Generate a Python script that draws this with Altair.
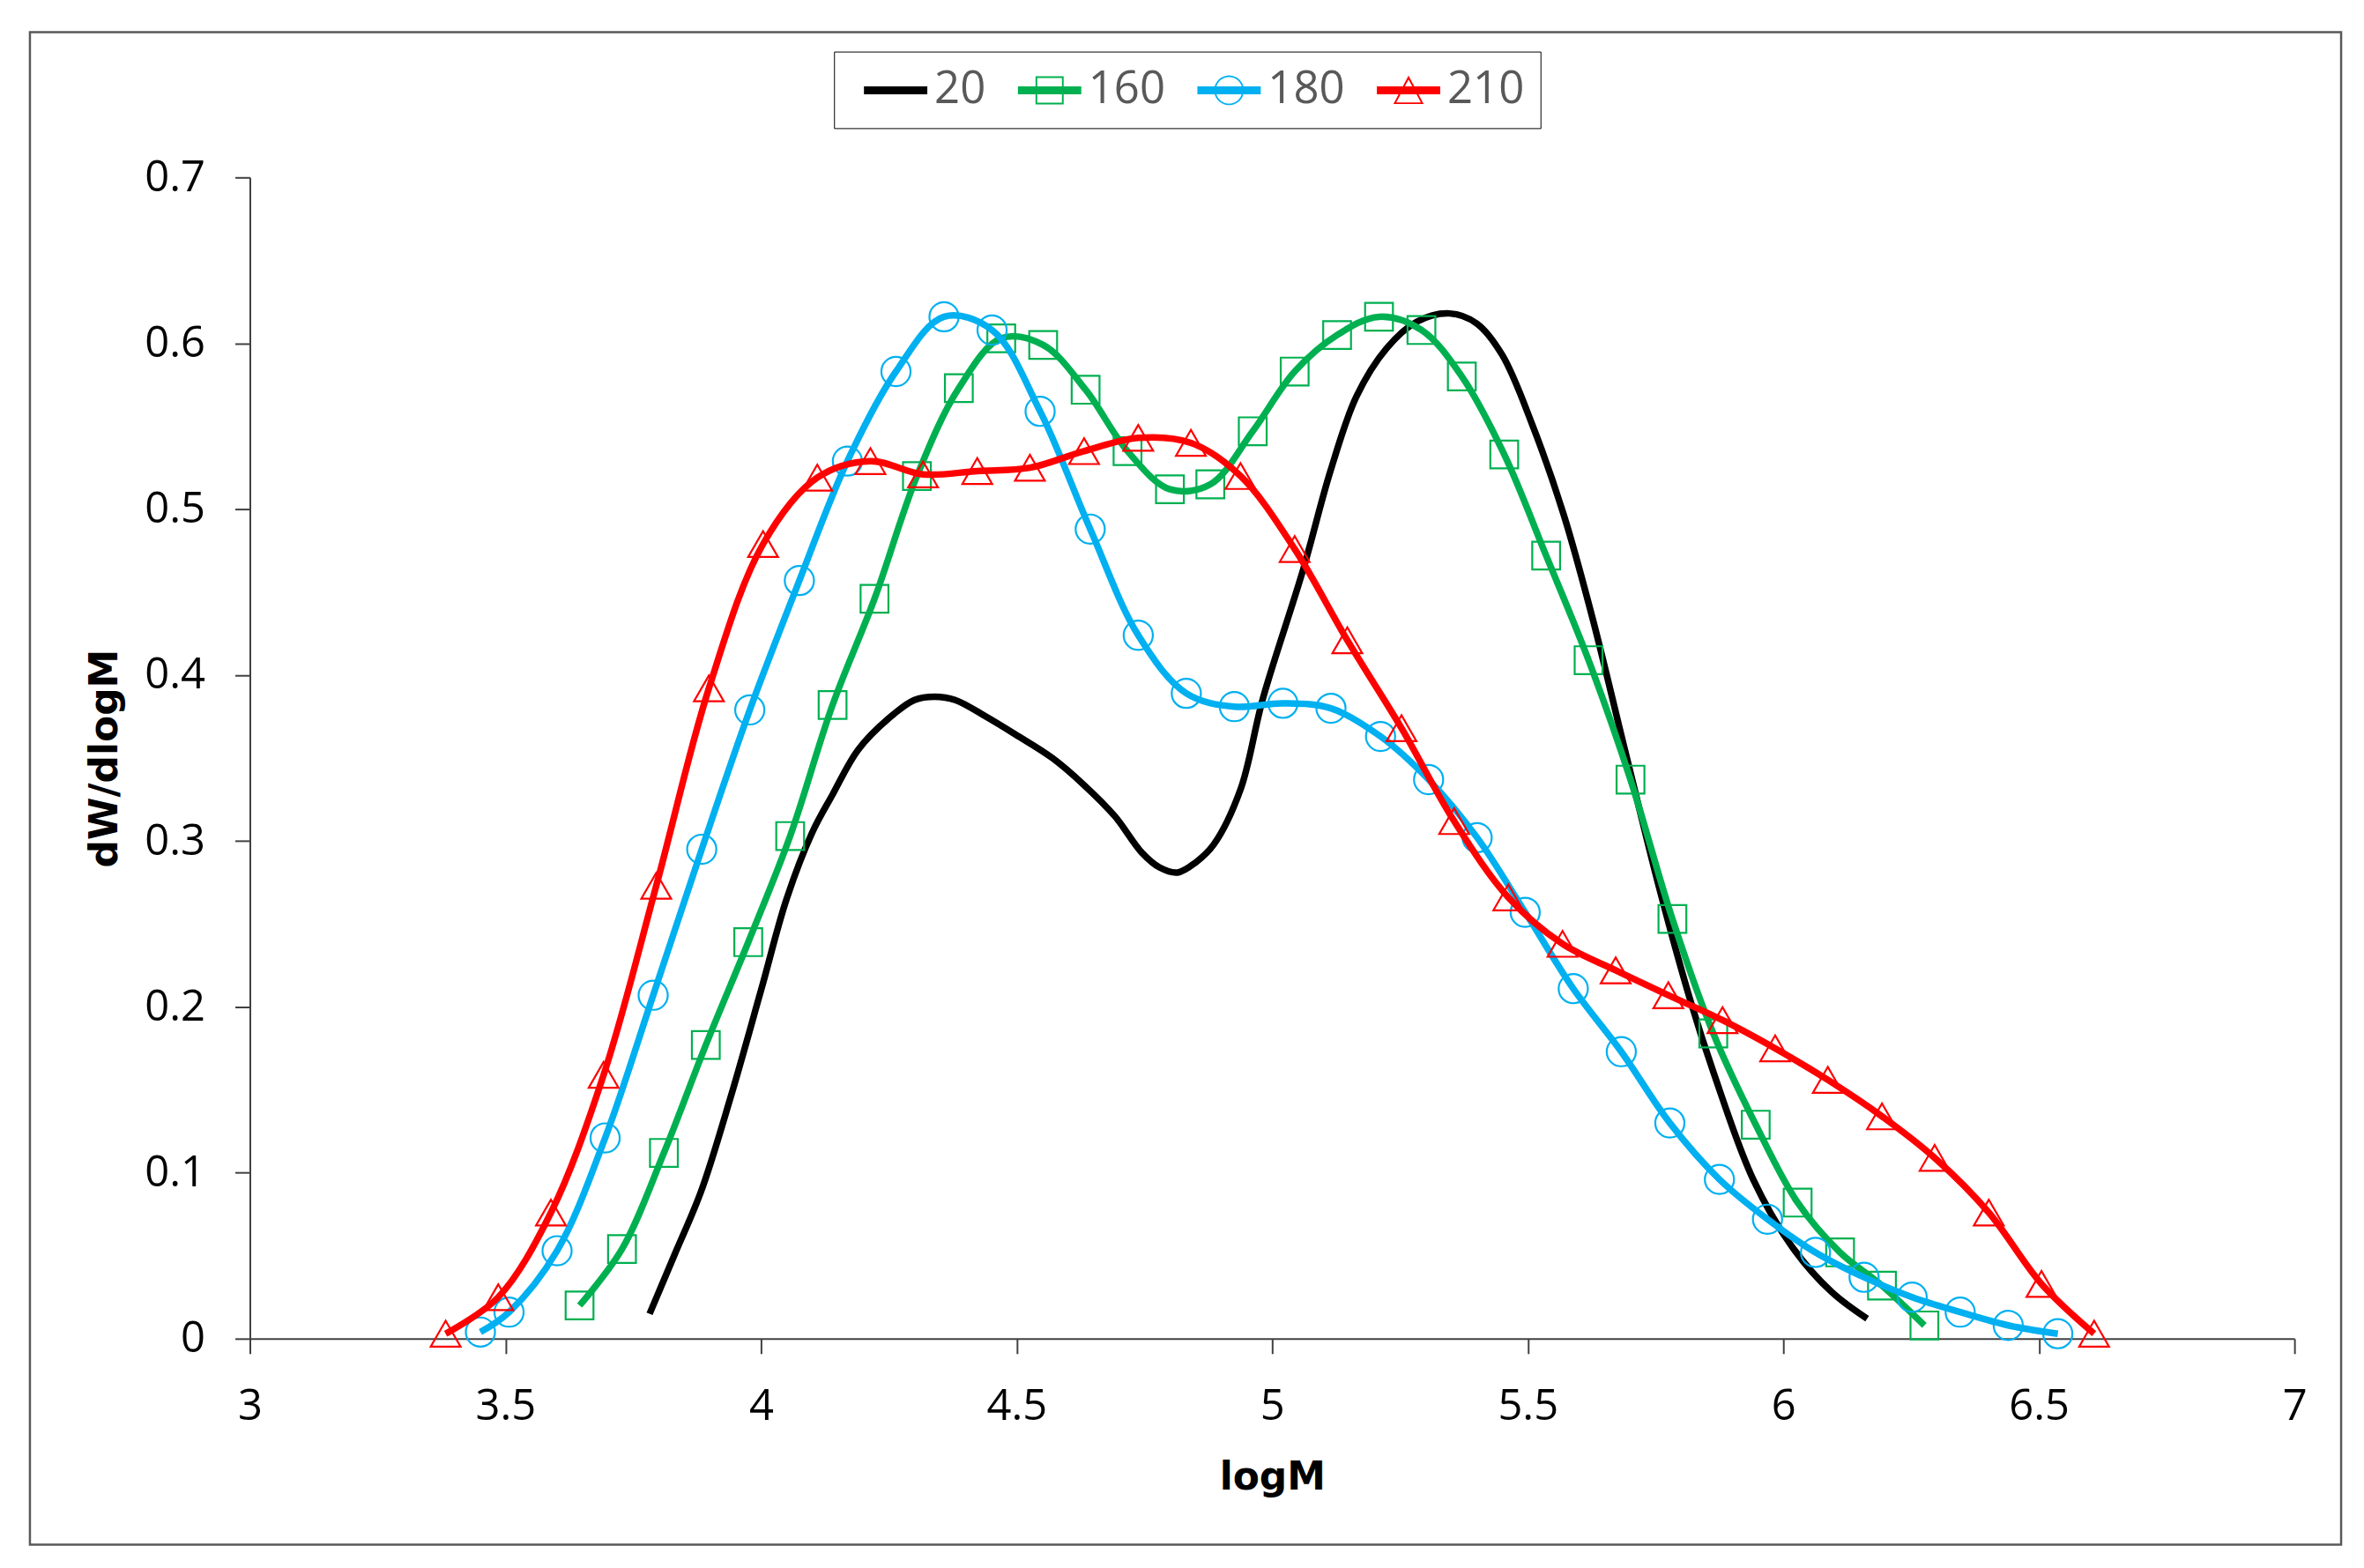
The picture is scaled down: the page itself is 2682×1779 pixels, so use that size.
import altair as alt
import pandas as pd
import numpy as np

# ---------------- data ----------------
series_names = ["20", "160", "180", "210"]
series_colors = ["#000000", "#00B050", "#00B0F0", "#FF0000"]

x_20 = [3.782, 3.83, 3.883, 3.94, 4.0, 4.05, 4.1, 4.14, 4.19, 4.25, 4.30, 4.34, 4.38,
        4.44, 4.499, 4.57, 4.631, 4.692, 4.745, 4.78, 4.815, 4.85, 4.886, 4.938, 4.982,
        5.061, 5.114, 5.165, 5.224, 5.283, 5.347, 5.40, 5.45, 5.51, 5.57, 5.627,
        5.69, 5.757, 5.818, 5.864, 5.941, 6.018, 6.095, 6.164]
y_20 = [0.015, 0.05, 0.089, 0.145, 0.21, 0.265, 0.305, 0.328, 0.355, 0.374, 0.385, 0.387, 0.385,
        0.375, 0.364, 0.35, 0.334, 0.315, 0.293, 0.284, 0.281, 0.287, 0.298, 0.331, 0.386,
        0.464, 0.523, 0.568, 0.597, 0.613, 0.618, 0.612, 0.593, 0.550, 0.497, 0.434,
        0.355, 0.272, 0.204, 0.160, 0.096, 0.055, 0.028, 0.012]

x_160 = [3.645, 3.728, 3.810, 3.892, 3.975, 4.057, 4.140, 4.222, 4.305, 4.387, 4.470, 4.552,
         4.635, 4.717, 4.800, 4.879, 4.962, 5.044, 5.127, 5.209, 5.292, 5.371, 5.454, 5.536,
         5.619, 5.701, 5.783, 5.863, 5.946, 6.028, 6.111, 6.193, 6.276]
y_160 = [0.020, 0.054, 0.112, 0.177, 0.239, 0.303, 0.382, 0.446, 0.520, 0.573, 0.603, 0.599,
         0.572, 0.535, 0.512, 0.515, 0.547, 0.583, 0.605, 0.616, 0.608, 0.580, 0.533, 0.472,
         0.409, 0.337, 0.253, 0.184, 0.129, 0.082, 0.052, 0.032, 0.008]

x_180 = [3.451, 3.507, 3.601, 3.695, 3.789, 3.884, 3.978, 4.075, 4.169, 4.264, 4.358, 4.452,
         4.546, 4.644, 4.738, 4.832, 4.926, 5.021, 5.115, 5.212, 5.306, 5.401, 5.495, 5.589,
         5.683, 5.778, 5.875, 5.969, 6.063, 6.158, 6.252, 6.346, 6.440, 6.537]
y_180 = [0.004, 0.016, 0.053, 0.121, 0.207, 0.295, 0.379, 0.457, 0.529, 0.583, 0.616, 0.608,
         0.559, 0.488, 0.424, 0.389, 0.381, 0.383, 0.380, 0.363, 0.337, 0.302, 0.257, 0.211,
         0.173, 0.130, 0.096, 0.072, 0.052, 0.037, 0.025, 0.016, 0.008, 0.003]

x_210 = [3.383, 3.486, 3.589, 3.692, 3.795, 3.898, 4.004, 4.110, 4.214, 4.317, 4.423, 4.526,
         4.632, 4.738, 4.841, 4.938, 5.044, 5.147, 5.253, 5.356, 5.462, 5.568, 5.672, 5.775,
         5.881, 5.984, 6.087, 6.193, 6.296, 6.402, 6.505, 6.608]
y_210 = [0.003, 0.025, 0.076, 0.159, 0.273, 0.392, 0.479, 0.519, 0.529, 0.521, 0.523, 0.525,
         0.535, 0.543, 0.540, 0.520, 0.476, 0.421, 0.368, 0.312, 0.266, 0.238, 0.222, 0.207,
         0.192, 0.175, 0.156, 0.134, 0.109, 0.076, 0.033, 0.003]

x_ticks = [3, 3.5, 4, 4.5, 5, 5.5, 6, 6.5, 7]
y_ticks = [0, 0.1, 0.2, 0.3, 0.4, 0.5, 0.6, 0.7]

series_x = {"20": x_20, "160": x_160, "180": x_180, "210": x_210}
series_y = {"20": y_20, "160": y_160, "180": y_180, "210": y_210}
marker_shape = {"160": "square", "180": "circle", "210": "triangle-up"}
marker_size = {"160": 1000, "180": 1100, "210": 1150}

frames = []
for s in series_names:
    frames.append(pd.DataFrame({"series": s, "logM": series_x[s], "dW": series_y[s]}))
df = pd.concat(frames, ignore_index=True)

# ---------------- styling ----------------
W, H = 2324, 1320
LABEL_FONT = "Open Sans"
TITLE_FONT = "DejaVu Sans"

x_enc = alt.X("logM:Q", scale=alt.Scale(domain=[3, 7], nice=False, zero=False),
              axis=alt.Axis(values=x_ticks, format="~g", title="logM", labelFlush=False,
                            labelPadding=36, titlePadding=34))
y_enc = alt.Y("dW:Q", scale=alt.Scale(domain=[0, 0.7], nice=False),
              axis=alt.Axis(values=y_ticks, format="~g", title="dW/dlogM",
                            labelPadding=34, titlePadding=22))

# legend symbols: thick line with hollow marker (custom paths, unit = sqrt(size)/2 = 26px)
x0, x1, t = -0.385, 2.385, 0.175
cx = (x0 + x1) / 2
line_path = f"M{x0},{-t}H{x1}V{t}H{x0}Z"
a, b = 0.615, 0.54
sq_path = line_path + (f" M{cx-a:.3f},{-a}H{cx+a:.3f}V{a}H{cx-a:.3f}Z"
                       f" M{cx-b:.3f},{-b}V{b}H{cx+b:.3f}V{-b}Z")
ang = np.linspace(0, 2 * np.pi, 48, endpoint=False)
ro, ri = 0.65, 0.58
outer = "M" + "L".join(f"{cx+ro*np.cos(q):.3f},{ro*np.sin(q):.3f}" for q in ang) + "Z"
inner = "M" + "L".join(f"{cx+ri*np.cos(q):.3f},{ri*np.sin(q):.3f}" for q in ang[::-1]) + "Z"
ci_path = line_path + " " + outer + " " + inner
tr_path = line_path + (f" M{cx},-0.64L{cx+0.66:.3f},0.6L{cx-0.66:.3f},0.6Z"
                       f" M{cx},-0.47L{cx-0.54:.3f},0.53L{cx+0.54:.3f},0.53Z")
legend_paths = [line_path, sq_path, ci_path, tr_path]

legend_def = alt.Legend(orient="none", legendX=664, legendY=-143, direction="horizontal",
                        title=None, strokeColor="#000000", padding=18,
                        symbolSize=2704, symbolStrokeWidth=0, symbolOpacity=1,
                        labelFont=LABEL_FONT, labelFontSize=51, labelColor="#595959",
                        labelOffset=44, columnPadding=20)

layers = []
for s, c in zip(series_names, series_colors):
    sub = alt.Chart(df).transform_filter(alt.datum.series == s)
    layers.append(sub.mark_line(color=c, strokeWidth=7.5, interpolate="catmull-rom")
                  .encode(x=x_enc, y=y_enc))
    if s in marker_shape:
        layers.append(sub.mark_point(shape=marker_shape[s], color=c, filled=False,
                                     size=marker_size[s], strokeWidth=2.2, opacity=1)
                      .encode(x=x_enc, y=y_enc))

legend_layer = alt.Chart(df).transform_filter("datum.dW > 10").mark_point(
    filled=True, opacity=1, size=2704).encode(
    x=x_enc, y=y_enc,
    color=alt.Color("series:N", scale=alt.Scale(domain=series_names, range=series_colors),
                    legend=legend_def),
    shape=alt.Shape("series:N", scale=alt.Scale(domain=series_names, range=legend_paths),
                    legend=legend_def),
)

frame = alt.Chart(alt.Data(values=[{"k": 1}])).mark_rect(
    fillOpacity=0, stroke="#595959", strokeWidth=2.5).encode(
    x=alt.value(-250), x2=alt.value(2377), y=alt.value(-165), y2=alt.value(1554))

chart = alt.layer(frame, *layers, legend_layer).properties(
    width=W, height=H, background="white",
    padding={"left": 24, "top": 25, "right": 16, "bottom": 16}
).configure_view(stroke=None).configure_axis(
    grid=False, domainColor="#404040", domainWidth=2, tickColor="#404040", tickWidth=2,
    tickSize=17, labelFont=LABEL_FONT, labelFontSize=49, labelColor="#000000",
    titleFont=TITLE_FONT, titleFontSize=44, titleFontWeight="bold", titleColor="#000000"
)

chart.save("out.html", embed_options={"renderer": "svg", "actions": False})
